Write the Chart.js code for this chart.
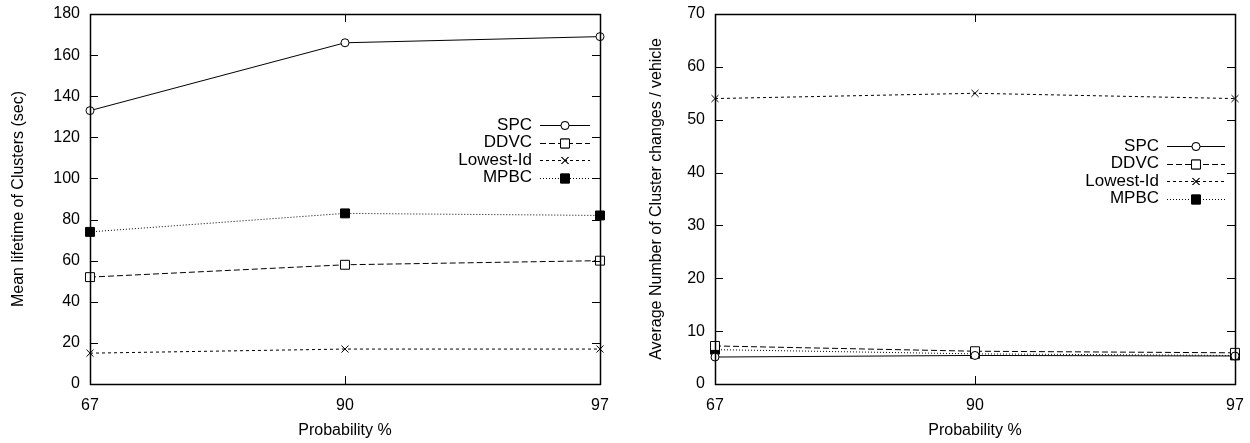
<!DOCTYPE html>
<html>
<head>
<meta charset="utf-8">
<script src="https://cdn.jsdelivr.net/npm/chart.js@4.4.0/dist/chart.umd.min.js"></script>
<style>
  body { margin: 0; background: #fff; }
  .wrap { position: relative; width: 1250px; height: 443px; }
  canvas { position: absolute; top: 0; }
  #left { left: 0; }
  #right { left: 625px; }
</style>
</head>
<body>
<div class="wrap">
  <canvas id="left" width="625" height="443"></canvas>
  <canvas id="right" width="625" height="443"></canvas>
</div>
<script>
(function () {

    // x categories (equally spaced in the picture)
    const probabilities = ['67', '90', '97'];
    const seriesNames = ['SPC', 'DDVC', 'Lowest-Id', 'MPBC'];

    // left chart: mean lifetime of clusters (sec)
    const lifetimeSPC = [133, 166, 169];
    const lifetimeDDVC = [52, 58, 60];
    const lifetimeLowestId = [15, 17, 17];
    const lifetimeMPBC = [74, 83, 82];

    // right chart: average number of cluster changes / vehicle
    const changesSPC = [5.1, 5.4, 5.3];
    const changesDDVC = [7.2, 6.2, 5.9];
    const changesLowestId = [54, 55, 54];
    const changesMPBC = [6.5, 5.7, 5.4];

    const font = 'Liberation Sans, Arial, Helvetica, sans-serif';

    // line / marker style of each series (gnuplot look)
    const styles = [
        { dash: [], pointStyle: 'circle', fill: '#fff', radius: 4 },
        { dash: [6, 3], pointStyle: 'rect', fill: '#fff', radius: 6.3 },
        { dash: [3, 3], pointStyle: 'crossRot', fill: '#fff', radius: 5 },
        { dash: [1, 2], pointStyle: 'rect', fill: '#000', radius: 6.3 },
    ];

    const makeDatasets = (values) => values.map((data, i) => ({
        label: seriesNames[i],
        data: data,
        borderColor: '#000',
        borderWidth: 1,
        borderDash: styles[i].dash,
        pointStyle: styles[i].pointStyle,
        pointRadius: styles[i].radius,
        pointBackgroundColor: styles[i].fill,
        pointBorderColor: '#000',
        pointBorderWidth: 1,
        tension: 0,
        fill: false,
        clip: false,
    }));

    // border + inward ticks on all four sides
    const framePlugin = {
        id: 'frame',
        afterDatasetsDraw(chart) {
            const ctx = chart.ctx;
            const a = chart.chartArea;
            const len = 8;
            ctx.save();
            ctx.strokeStyle = '#000';
            ctx.lineWidth = 1;
            ctx.setLineDash([]);
            ctx.beginPath();
            const ys = chart.scales.y;
            ys.ticks.forEach((t, i) => {
                const y = Math.round(ys.getPixelForTick(i)) + 0.5;
                ctx.moveTo(a.left, y); ctx.lineTo(a.left + len, y);
                ctx.moveTo(a.right, y); ctx.lineTo(a.right - len, y);
            });
            const xs = chart.scales.x;
            xs.ticks.forEach((t, i) => {
                const x = Math.round(xs.getPixelForTick(i)) + 0.5;
                ctx.moveTo(x, a.bottom); ctx.lineTo(x, a.bottom - len);
                ctx.moveTo(x, a.top); ctx.lineTo(x, a.top + len);
            });
            ctx.stroke();
            ctx.lineWidth = 1.5;
            ctx.strokeRect(Math.round(a.left) + 0.5, Math.round(a.top) + 0.5,
                Math.round(a.right - a.left), Math.round(a.bottom - a.top));
            ctx.restore();
        }
    };

    // gnuplot style key: right aligned text, line sample with marker
    const keyPlugin = {
        id: 'gkey',
        afterDraw(chart, args, opts) {
            const ctx = chart.ctx;
            const a = chart.chartArea;
            ctx.save();
            ctx.font = '17px ' + font;
            ctx.textAlign = 'right';
            ctx.textBaseline = 'middle';
            chart.data.datasets.forEach((ds, i) => {
                const y = a.top + opts.top + i * opts.rowHeight;
                const x0 = a.right - opts.sampleRight - opts.sampleWidth;
                const x1 = a.right - opts.sampleRight;
                ctx.fillStyle = '#000';
                ctx.fillText(ds.label, x0 - 8, y);
                ctx.strokeStyle = '#000';
                ctx.lineWidth = 1;
                ctx.setLineDash(ds.borderDash);
                ctx.beginPath();
                ctx.moveTo(x0, Math.round(y) + 0.5);
                ctx.lineTo(x1, Math.round(y) + 0.5);
                ctx.stroke();
                ctx.setLineDash([]);
                ctx.fillStyle = ds.pointBackgroundColor;
                Chart.helpers.drawPoint(ctx, {
                    pointStyle: ds.pointStyle,
                    radius: ds.pointRadius,
                    borderWidth: 1,
                    rotation: 0,
                }, (x0 + x1) / 2, Math.round(y) + 0.5);
                ctx.fill();
                ctx.stroke();
            });
            ctx.restore();
        }
    };

    function displayChart(canvasId, datasets, cfg) {
        const ctx = document.getElementById(canvasId).getContext('2d');
        return new Chart(ctx, {
            type: 'line',
            data: { labels: probabilities, datasets: datasets },
            plugins: [framePlugin, keyPlugin],
            options: {
                responsive: false,
                animation: false,
                devicePixelRatio: 1,
                layout: { padding: { top: 14, right: cfg.padRight, left: 0, bottom: 0 } },
                plugins: {
                    legend: { display: false },
                    tooltip: { enabled: false },
                    gkey: cfg.key,
                },
                scales: {
                    x: {
                        type: 'category',
                        offset: false,
                        grid: { display: false, drawTicks: false },
                        border: { display: false },
                        ticks: { color: '#000', padding: 12, font: { family: font, size: 16 }, maxRotation: 0 },
                        title: {
                            display: true, text: 'Probability %', color: '#000',
                            font: { family: font, size: 16 }, padding: { top: 0, bottom: 3 }
                        },
                        afterFit(scale) {
                            scale.height = 59;
                            scale.paddingLeft = 0;
                            scale.paddingRight = 0;
                        }
                    },
                    y: {
                        min: 0, max: cfg.yMax,
                        grid: { display: false, drawTicks: false },
                        border: { display: false },
                        ticks: { stepSize: cfg.yStep, color: '#000', padding: 10, font: { family: font, size: 16 } },
                        title: {
                            display: true, text: cfg.yTitle, color: '#000',
                            font: { family: font, size: 16 }, padding: { top: cfg.yTitlePad, bottom: 0 }
                        },
                        afterFit(scale) {
                            scale.width = cfg.yWidth;
                            scale.paddingTop = 0;
                            scale.paddingBottom = 0;
                        }
                    }
                }
            }
        });
    }

    displayChart('left',
        makeDatasets([lifetimeSPC, lifetimeDDVC, lifetimeLowestId, lifetimeMPBC]),
        {
            yMax: 180, yStep: 20, yWidth: 90, yTitlePad: 9, padRight: 25,
            yTitle: 'Mean lifetime of Clusters (sec)',
            key: { top: 111, rowHeight: 17.5, sampleRight: 10, sampleWidth: 50 }
        });

    displayChart('right',
        makeDatasets([changesSPC, changesDDVC, changesLowestId, changesMPBC]),
        {
            yMax: 70, yStep: 10, yWidth: 90, yTitlePad: 22, padRight: 15,
            yTitle: 'Average Number of Cluster changes / vehicle',
            key: { top: 132, rowHeight: 17.5, sampleRight: 10, sampleWidth: 58 }
        });

})();
</script>
</body>
</html>
